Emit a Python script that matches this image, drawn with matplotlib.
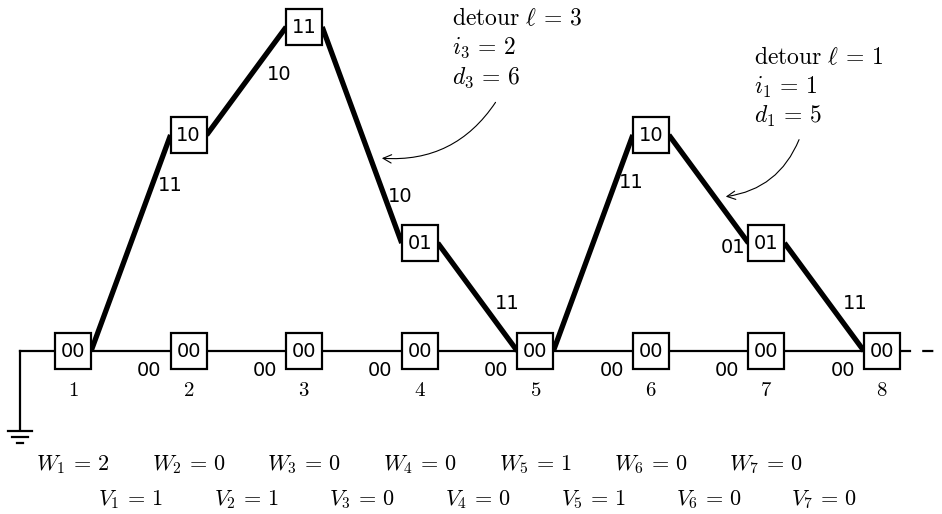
import matplotlib
matplotlib.use("Agg")
import matplotlib.pyplot as plt
from matplotlib.patches import Rectangle, FancyArrowPatch

plt.rcParams['mathtext.fontset'] = 'cm'

# trellis data
steps = [1, 2, 3, 4, 5, 6, 7, 8]
level = {'00': 0, '01': 1, '10': 2, '11': 3}
base_labels = ['00', '00', '00', '00', '00', '00', '00']

detour_a_start = 1
detour_a_states = ['00', '10', '11', '01', '00']
detour_a_outputs = ['11', '10', '10', '11']

detour_b_start = 5
detour_b_states = ['00', '10', '01', '00']
detour_b_outputs = ['11', '01', '11']

W = [2, 0, 0, 0, 1, 0, 0]
V = [1, 1, 0, 0, 1, 0, 0]

# layout
hw, hh = 0.156, 0.167
fs_box = 14
fs_note = 17
fs_math = 16

fig = plt.figure(figsize=(9.42, 5.14), dpi=100)
ax = fig.add_axes([0, 0, 1, 1])
ax.set_xlim(0.368, 8.519)
ax.set_ylim(-1.509, 3.25)
ax.axis('off')


def box(x, y, s):
    ax.add_patch(Rectangle((x - hw, y - hh), 2 * hw, 2 * hh, fc='white',
                           ec='black', lw=1.6, zorder=3))
    ax.text(x, y, s, ha='center', va='center', fontsize=fs_box, zorder=4)


# baseline, ground and dashed tail
ax.plot([0.541, steps[-1]], [0, 0], color='black', lw=1.6, zorder=1)
ax.plot([0.541, 0.541], [0, -0.731], color='black', lw=1.6)
for dy, w in [(-0.741, 0.104), (-0.796, 0.069), (-0.852, 0.026)]:
    ax.plot([0.541 - w, 0.541 + w], [dy, dy], color='black', lw=1.6)
ax.plot([steps[-1] + hw, 8.519], [0, 0], color='black', lw=1.6,
        dashes=(5, 5))

for k, s in enumerate(steps):
    box(s, 0, '00')
    ax.text(s, -0.36, f'${s}$', ha='center', va='center', fontsize=15)
for k, lab in enumerate(base_labels):
    ax.text(steps[k + 1] - 0.34, -0.176, lab, ha='center', va='center',
            fontsize=fs_box)

# detours
lab_offsets_a = [(0.339, 0.537), (0.282, 0.056), (0.329, -0.565), (0.255, -0.056)]
lab_offsets_b = [(0.328, 0.556), (0.211, -0.546), (0.267, -0.056)]
for start, states, outs, offs in [
        (detour_a_start, detour_a_states, detour_a_outputs, lab_offsets_a),
        (detour_b_start, detour_b_states, detour_b_outputs, lab_offsets_b)]:
    for i in range(len(states) - 1):
        x0, y0 = start + i, level[states[i]]
        x1, y1 = start + i + 1, level[states[i + 1]]
        ax.plot([x0 + hw, x1 - hw], [y0, y1], color='black', lw=3.8,
                solid_capstyle='butt', zorder=2)
        mx, my = (x0 + x1) / 2, (y0 + y1) / 2
        ax.text(mx + offs[i][0], my + offs[i][1], outs[i], ha='center',
                va='center', fontsize=fs_box)
    for i in range(1, len(states) - 1):
        box(start + i, level[states[i]], states[i])

# annotations
notes = [
    (4.279, [3.083, 2.806, 2.528],
     [r'$\mathrm{detour}\ \ell \,=\, 3$', r'$i_3 \,=\, 2$', r'$d_3 \,=\, 6$'],
     (4.669, 2.324), (3.648, 1.787)),
    (6.893, [2.722, 2.444, 2.167],
     [r'$\mathrm{detour}\ \ell \,=\, 1$', r'$i_1 \,=\, 1$', r'$d_1 \,=\, 5$'],
     (7.291, 1.981), (6.624, 1.426)),
]
for x, ys, lines, p0, p1 in notes:
    for y, t in zip(ys, lines):
        ax.text(x, y, t, ha='left', va='center', fontsize=fs_note)
    ax.add_patch(FancyArrowPatch(p0, p1, connectionstyle='arc3,rad=-0.3',
                                 arrowstyle='->,head_length=6,head_width=3',
                                 color='black', lw=0.8))

for k, w in enumerate(W):
    ax.text(steps[k], -1.056, f'$W_{k + 1} \\,=\\, {w}$', ha='center',
            va='center', fontsize=fs_math)
for k, v in enumerate(V):
    ax.text(steps[k] + 0.5, -1.38, f'$V_{k + 1} \\,=\\, {v}$', ha='center',
            va='center', fontsize=fs_math)

fig.savefig('out.png', dpi=100)
